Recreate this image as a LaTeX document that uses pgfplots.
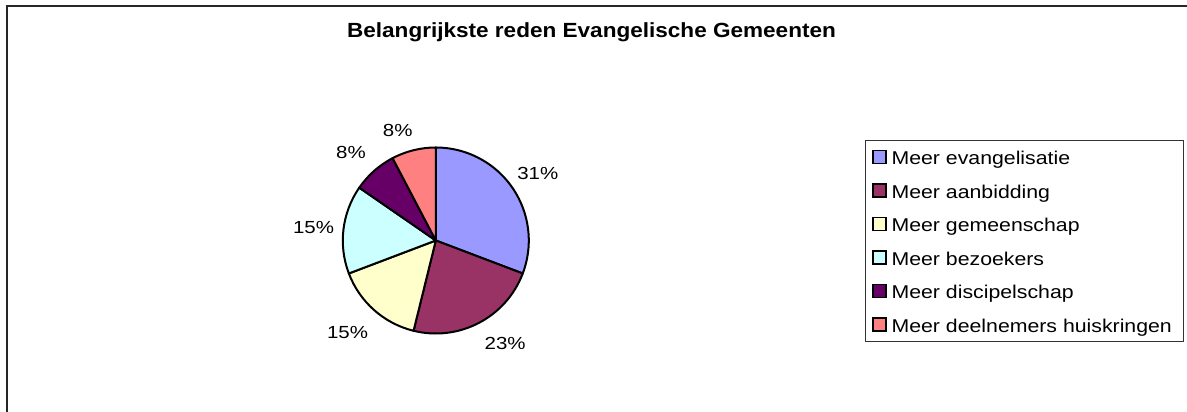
\documentclass[border=0pt]{standalone}
\usepackage{fontspec}
\usepackage{pgfplots}
\usepackage{pgfplotstable}
\pgfplotsset{compat=1.18}
\setmainfont{Liberation Sans}
% Excel renders its text a little wide
\newfontfamily\titfont[FakeStretch=1.1]{Liberation Sans}
\newfontfamily\labfont[FakeStretch=1.17]{Liberation Sans}
\newfontfamily\legfont[FakeStretch=1.15]{Liberation Sans}

\definecolor{pie1}{HTML}{9999FF}
\definecolor{pie2}{HTML}{993366}
\definecolor{pie3}{HTML}{FFFFCC}
\definecolor{pie4}{HTML}{CCFFFF}
\definecolor{pie5}{HTML}{660066}
\definecolor{pie6}{HTML}{FF8080}

% answers per reason, label centre in axis units (radius = 1)
\pgfplotstableread{
value lx ly
4 1.097 0.718
3 0.746 -1.110
2 -0.949 -0.989
2 -1.315 0.145
1 -0.912 0.944
1 -0.410 1.188
}\piedata

\newcommand\entry[1]{\makebox[280pt][l]{#1}}

\begin{document}
\begin{tikzpicture}
\begin{axis}[
  hide axis, scale only axis, clip=false,
  width=186pt, height=186pt,
  xmin=-1, xmax=1, ymin=-1, ymax=1,
  at={(435.8pt,171.5pt)}, anchor=origin,
  legend cell align=left,
  legend image code/.code={\draw[#1, draw=black, line width=1.5pt] (0.75pt,-5.8pt) rectangle (13.75pt,7.2pt);},
  legend style={
    at={(2.806,1.0403)}, anchor=north west,
    draw=black!80, line width=0.8pt,
    inner xsep=7pt, inner ysep=9.5pt,
    row sep=18.5pt, /tikz/column sep=0pt,
    font=\legfont\fontsize{18.5}{18.5}\selectfont,
    nodes={inner xsep=5pt, inner ysep=0pt, text height=14pt, text depth=0pt},
  },
]
\addlegendimage{fill=pie1}
\addlegendentry{\entry{Meer evangelisatie}}
\addlegendimage{fill=pie2}
\addlegendentry{\entry{Meer aanbidding}}
\addlegendimage{fill=pie3}
\addlegendentry{\entry{Meer gemeenschap}}
\addlegendimage{fill=pie4}
\addlegendentry{\entry{Meer bezoekers}}
\addlegendimage{fill=pie5}
\addlegendentry{\entry{Meer discipelschap}}
\addlegendimage{fill=pie6}
\addlegendentry{\entry{Meer deelnemers huiskringen}}

\pgfplotsextra{
  \pgfplotstablegetrowsof{\piedata}
  \pgfmathtruncatemacro\lastrow{\pgfplotsretval-1}
  \gdef\total{0}
  \foreach \r in {0,...,\lastrow}{
    \pgfplotstablegetelem{\r}{value}\of\piedata
    \pgfmathsetmacro\t{\total+\pgfplotsretval}
    \xdef\total{\t}
  }
  \gdef\startang{90}
  \foreach \r in {0,...,\lastrow}{
    \pgfplotstablegetelem{\r}{value}\of\piedata
    \let\v\pgfplotsretval
    \pgfplotstablegetelem{\r}{lx}\of\piedata
    \let\lx\pgfplotsretval
    \pgfplotstablegetelem{\r}{ly}\of\piedata
    \let\ly\pgfplotsretval
    \pgfmathsetmacro\endang{\startang-360*\v/\total}
    \pgfmathtruncatemacro\pct{round(100*\v/\total)}
    \pgfmathtruncatemacro\ci{\r+1}
    \filldraw[fill=pie\ci, draw=black, line width=2pt, line join=round]
      (axis cs:0,0) -- (axis cs:{cos(\startang)},{sin(\startang)})
      arc[start angle=\startang, end angle=\endang, radius=93pt] -- cycle;
    \node[inner sep=0pt, text height=12.5pt, text depth=0pt,
      font=\labfont\fontsize{17.5}{17.5}\selectfont]
      at (axis cs:\lx,\ly) {\pct\%};
    \xdef\startang{\endang}
  }
}
\end{axis}

\node[anchor=base, font=\titfont\bfseries\fontsize{20.5}{20.5}\selectfont]
  at (591.5pt,374.7pt) {Belangrijkste reden Evangelische Gemeenten};
\draw[line width=2pt, black!85] (6.7pt,0pt) -- (6.7pt,406.3pt) -- (1187pt,406.3pt);

\pgfresetboundingbox
\useasboundingbox (0pt,0pt) rectangle (1187pt,412pt);
\end{tikzpicture}
\end{document}
